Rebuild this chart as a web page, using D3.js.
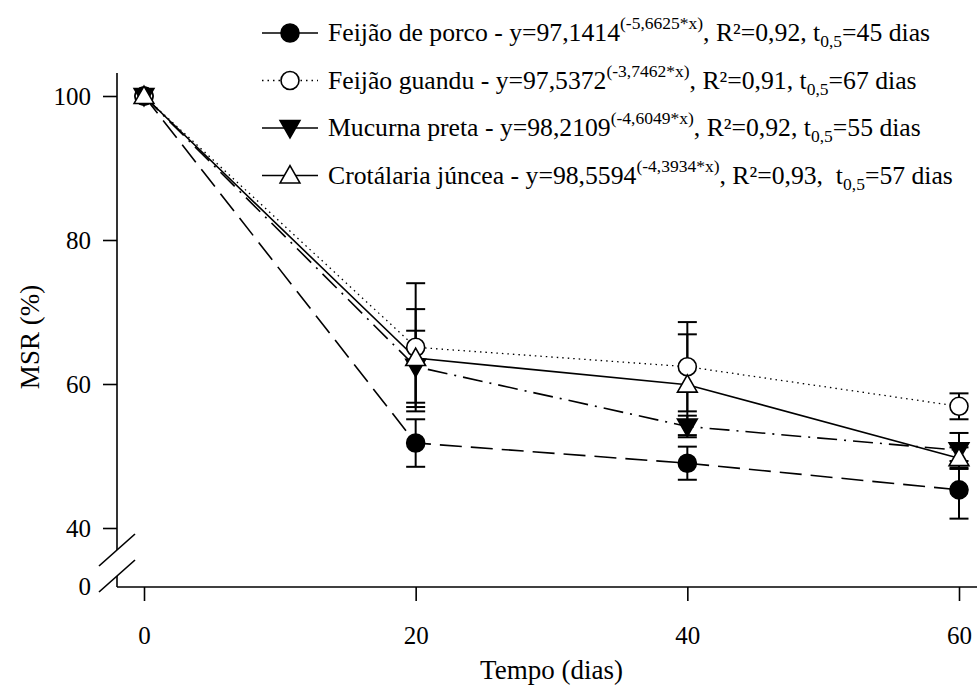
<!DOCTYPE html>
<html>
<head>
<meta charset="utf-8">
<script src="https://cdn.jsdelivr.net/npm/d3@7"></script>
<style>
  html, body { margin: 0; padding: 0; background: #fff; }
  svg { display: block; }
  svg text { font-family: "Liberation Serif", "Times New Roman", Tinos, "DejaVu Serif", serif !important; fill: #000; }
</style>
</head>
<body>
<svg id="chart" width="977" height="688"></svg>
<script>
// ---- data ----
const days = [0, 20, 40, 60];
const porco = [100, 51.8, 49.0, 45.3];
const porcoErr = [0, 3.3, 2.3, 4.0];
const guandu = [100, 65.1, 62.4, 56.9];
const guanduErr = [0, 8.9, 6.2, 1.8];
const mucuna = [100, 62.4, 54.1, 50.8];
const mucunaErr = [0, 5.0, 1.5, 2.4];
const crotalaria = [100, 63.6, 59.9, 49.7];
const crotalariaErr = [0, 6.8, 7.0, 1.5];
const xTicks = [0, 20, 40, 60];
const yTicks = [40, 60, 80, 100];
const yBreakTick = [0];

const legendNames = ["Feijão de porco", "Feijão guandu", "Mucurna preta", "Crotálaria júncea"];
const legendA = ["97,1414", "97,5372", "98,2109", "98,5594"];
const legendK = ["(-5,6625*x)", "(-3,7462*x)", "(-4,6049*x)", "(-4,3934*x)"];
const legendR2 = ["0,92", "0,91", "0,92", "0,93"];
const legendSep = [", ", ", ", ", ", ",  "];
const legendT = ["45", "67", "55", "57"];

const FONT = "'Liberation Serif', 'Times New Roman', Tinos, 'DejaVu Serif', serif";

const series = [
  {name: legendNames[0], v: porco, e: porcoErr, dash: "22,9", marker: "circle", fill: "#000"},
  {name: legendNames[1], v: guandu, e: guanduErr, dash: "1.5,4", marker: "circle", fill: "#fff", thin: true},
  {name: legendNames[2], v: mucuna, e: mucunaErr, dash: "20,7,2,7", marker: "tridown", fill: "#000"},
  {name: legendNames[3], v: crotalaria, e: crotalariaErr, dash: null, marker: "triup", fill: "#fff"}
];

// ---- scales ----
const svg = d3.select("#chart");
const x = d3.scaleLinear().domain([0, 60]).range([144, 959]);
const y = d3.scaleLinear().domain([0, 40, 100]).range([587, 528, 96]);
const axisX0 = 117;

// ---- axes ----
const ax = svg.append("g");
ax.append("line").attr("x1", axisX0).attr("x2", 977).attr("y1", y(0)).attr("y2", y(0))
  .attr("stroke", "#000").attr("stroke-width", 1.6);
const xAxis = d3.axisBottom(x).tickValues(xTicks).tickSize(14).tickPadding(25).tickFormat(d3.format("d"));
const gx = svg.append("g").attr("transform", `translate(0,${y(0)})`).call(xAxis);
gx.attr("font-family", FONT);
gx.select(".domain").remove();
gx.selectAll(".tick line").attr("stroke", "#000").attr("stroke-width", 1.6);
gx.selectAll(".tick text").attr("font-size", 25).attr("font-family", FONT);

// y axis (broken)
ax.append("line").attr("x1", axisX0).attr("x2", axisX0).attr("y1", 73).attr("y2", 550)
  .attr("stroke", "#000").attr("stroke-width", 1.6);
ax.append("line").attr("x1", axisX0).attr("x2", axisX0).attr("y1", 576).attr("y2", y(0))
  .attr("stroke", "#000").attr("stroke-width", 1.6);
[550, 576].forEach(cy => {
  ax.append("line").attr("x1", axisX0 - 18).attr("y1", cy + 16).attr("x2", axisX0 + 18).attr("y2", cy - 16)
    .attr("stroke", "#000").attr("stroke-width", 1.6);
});
const yAxis = d3.axisLeft(y).tickValues(yTicks).tickSize(14).tickPadding(12).tickFormat(d3.format("d"));
const gy = svg.append("g").attr("transform", `translate(${axisX0},0)`).call(yAxis);
gy.attr("font-family", FONT);
gy.select(".domain").remove();
gy.selectAll(".tick line").attr("stroke", "#000").attr("stroke-width", 1.6);
gy.selectAll(".tick text").attr("font-size", 25).attr("font-family", FONT);
svg.selectAll(".y0").data(yBreakTick).enter().append("text")
  .attr("x", axisX0 - 26).attr("y", d => y(d)).attr("dy", "0.32em")
  .attr("text-anchor", "end").attr("font-size", 25).attr("font-family", FONT).text(d => d);

// axis titles
svg.append("text").attr("x", x(30)).attr("y", 679).attr("text-anchor", "middle")
  .attr("font-size", 27).attr("font-family", FONT).text("Tempo (dias)");
svg.append("text").attr("transform", `translate(39,337) rotate(-90)`).attr("text-anchor", "middle")
  .attr("font-size", 27).attr("font-family", FONT).text("MSR (%)");

// ---- marker drawer ----
function drawMarker(g, type, fill, cx, cy, size) {
  if (type === "circle") {
    g.append("circle").attr("cx", cx).attr("cy", cy).attr("r", size)
      .attr("fill", fill).attr("stroke", "#000").attr("stroke-width", 1.6);
  } else {
    const s = size * 1.1;
    let pts;
    if (type === "triup") pts = [[cx, cy - s], [cx + s, cy + s * 0.75], [cx - s, cy + s * 0.75]];
    else pts = [[cx, cy + s], [cx + s, cy - s * 0.75], [cx - s, cy - s * 0.75]];
    g.append("polygon").attr("points", pts.map(p => p.join(",")).join(" "))
      .attr("fill", fill).attr("stroke", "#000").attr("stroke-width", 1.6);
  }
}

// ---- lines ----
const line = d3.line().x((d, i) => x(days[i])).y(d => y(d));
const gl = svg.append("g");
series.forEach(s => {
  gl.append("path").attr("d", line(s.v)).attr("fill", "none").attr("stroke", "#000")
    .attr("stroke-width", s.thin ? 1.3 : 1.6)
    .attr("stroke-dasharray", s.dash);
});

// ---- error bars ----
const ge = svg.append("g");
series.forEach(s => {
  s.v.forEach((v, i) => {
    if (!s.e[i]) return;
    const cx = x(days[i]);
    ge.append("line").attr("x1", cx).attr("x2", cx).attr("y1", y(v - s.e[i])).attr("y2", y(v + s.e[i]))
      .attr("stroke", "#000").attr("stroke-width", 2);
    [v - s.e[i], v + s.e[i]].forEach(t => {
      ge.append("line").attr("x1", cx - 9.5).attr("x2", cx + 9.5).attr("y1", y(t)).attr("y2", y(t))
        .attr("stroke", "#000").attr("stroke-width", 2);
    });
  });
});

// ---- markers ----
const gm = svg.append("g");
series.forEach(s => {
  s.v.forEach((v, i) => drawMarker(gm, s.marker, s.fill, x(days[i]), y(v), 9));
});

// ---- legend ----
const gLeg = svg.append("g");
const legX = 262, legY0 = 33, legDy = 47.5;
series.forEach((s, i) => {
  const cy = legY0 + i * legDy;
  gLeg.append("line").attr("x1", legX).attr("x2", legX + 56).attr("y1", cy).attr("y2", cy)
    .attr("stroke", "#000").attr("stroke-width", s.thin ? 1.3 : 1.6).attr("stroke-dasharray", s.thin ? "1.5,4" : null);
  drawMarker(gLeg, s.marker, s.fill, legX + 28, cy, 9);
  const t = gLeg.append("text").attr("x", legX + 66).attr("y", cy + 8).attr("font-size", 25.7)
    .attr("font-family", FONT).style("white-space", "pre");
  t.append("tspan").text(`${legendNames[i]} - y=${legendA[i]}`);
  t.append("tspan").attr("font-size", 17.5).attr("dy", -12).text(legendK[i]);
  t.append("tspan").attr("dy", 12).text(`${legendSep[0]}R²=${legendR2[i]}${legendSep[i]}t`);
  t.append("tspan").attr("font-size", 17.5).attr("dy", 6).text("0,5");
  t.append("tspan").attr("dy", -6).text(`=${legendT[i]} dias`);
});
</script>
</body>
</html>
